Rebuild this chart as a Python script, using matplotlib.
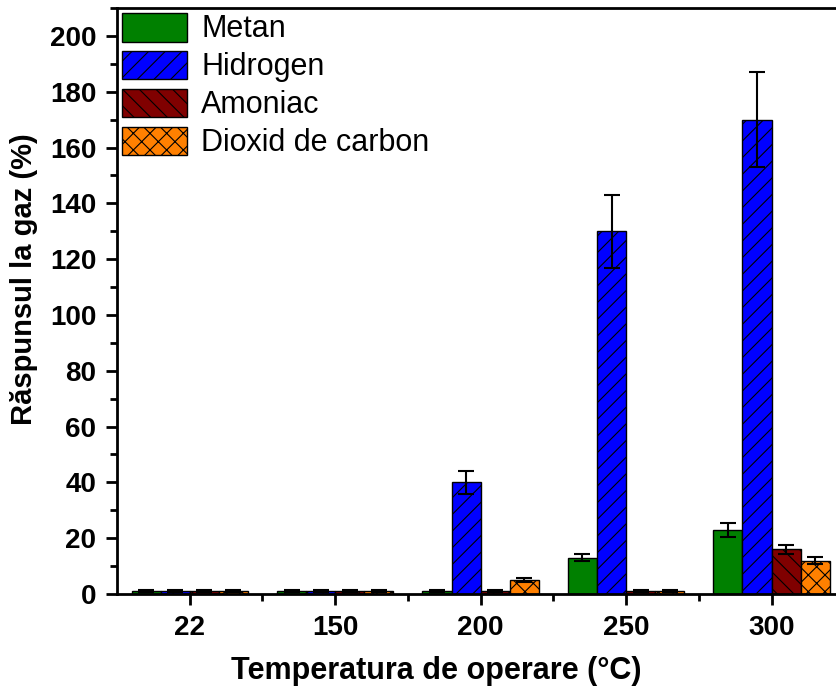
import numpy as np
import matplotlib
matplotlib.use('Agg')
import matplotlib.pyplot as plt
from matplotlib.ticker import MultipleLocator

plt.rcParams['font.family'] = ['Liberation Sans', 'DejaVu Sans']
plt.rcParams['hatch.linewidth'] = 0.8

temps = ['22', '150', '200', '250', '300']
gases = ['Metan', 'Hidrogen', 'Amoniac', 'Dioxid de carbon']

metan = [1, 1, 1, 13, 23]
metan_err = [0.3, 0.3, 0.3, 1.2, 2.5]
hidrogen = [1, 1, 40, 130, 170]
hidrogen_err = [0.3, 0.3, 4, 13, 17]
amoniac = [1, 1, 1, 1, 16]
amoniac_err = [0.3, 0.3, 0.3, 0.3, 1.7]
co2 = [1, 1, 5, 1, 12]
co2_err = [0.3, 0.3, 0.6, 0.3, 1.3]

colors = ['#008000', '#0000FF', '#800000', '#FF8000']
hatches = ['', '//', '\\\\', 'xx']

fig = plt.figure(figsize=(8.37, 6.88), dpi=100)
ax = fig.add_axes([0.1398, 0.1366, 0.8602, 0.8518])

x = np.arange(len(temps))
w = 0.2
series = [(metan, metan_err), (hidrogen, hidrogen_err), (amoniac, amoniac_err), (co2, co2_err)]
for i, (vals, errs) in enumerate(series):
    ax.bar(x + (i - 1.5) * w, vals, w, yerr=errs, color=colors[i], hatch=hatches[i],
           edgecolor='black', linewidth=1.0, label=gases[i],
           error_kw=dict(ecolor='black', elinewidth=1.5, capsize=6, capthick=1.5))

ax.set_xlim(-0.5, 4.45)
ax.set_ylim(0, 210)
ax.set_xticks(x)
ax.set_xticklabels(temps)
ax.set_xticks(x[:-1] + 0.5, minor=True)
ax.yaxis.set_major_locator(MultipleLocator(20))
ax.yaxis.set_minor_locator(MultipleLocator(10))

for s in ['left', 'bottom', 'top']:
    ax.spines[s].set_linewidth(2)
ax.spines['right'].set_visible(False)

ax.tick_params(axis='both', which='major', direction='out', length=8, width=2,
               labelsize=20, pad=7)
ax.tick_params(axis='both', which='minor', direction='out', length=5, width=2)
for lbl in ax.get_xticklabels() + ax.get_yticklabels():
    lbl.set_fontweight('bold')

ax.set_xlabel('Temperatura de operare (°C)', fontsize=22, fontweight='bold')
ax.xaxis.set_label_coords(0.444, -0.105)
ax.set_ylabel('Răspunsul la gaz (%)', fontsize=21, fontweight='bold')
ax.yaxis.set_label_coords(-0.11, 0.5375)

ax.legend(loc='upper left', frameon=False, fontsize=22, handlelength=2.15,
          handleheight=1.08, labelspacing=0.2, borderaxespad=0.1, borderpad=0.05,
          handletextpad=0.45)

fig.savefig('out.png', dpi=100)
